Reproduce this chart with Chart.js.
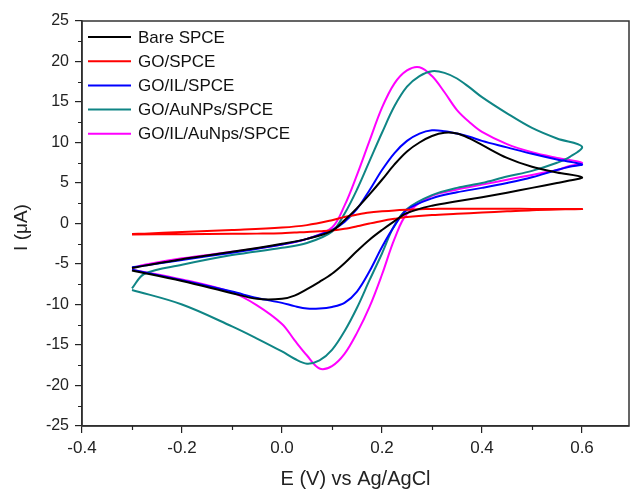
<!DOCTYPE html>
<html>
<head>
<meta charset="utf-8">
<style>
  html, body { margin: 0; padding: 0; background: #fff; }
  #wrap { width: 630px; height: 493px; }
</style>
<script src="https://cdn.jsdelivr.net/npm/chart.js@4/dist/chart.umd.min.js"></script>
</head>
<body>
<div id="wrap"><canvas id="cvChart" width="630" height="493"></canvas></div>
<script>
// Potential sweep (V vs Ag/AgCl): forward (anodic) then reverse (cathodic)
const sweepForward = [-0.3, -0.275, -0.2, -0.1, 0, 0.05, 0.1, 0.125, 0.15, 0.175, 0.2, 0.225, 0.25, 0.275, 0.3, 0.325, 0.35, 0.375, 0.4, 0.45, 0.5, 0.55, 0.6];
const sweepReverse = [0.575, 0.55, 0.5, 0.45, 0.4, 0.35, 0.3, 0.25, 0.225, 0.2, 0.175, 0.15, 0.125, 0.1, 0.075, 0.05, 0.025, 0, -0.05, -0.1, -0.2, -0.3];

// Currents (uA)
const bareFwd = [-5.5, -5.2, -4.4, -3.5, -2.5, -1.9, -0.9, 0.4, 1.9, 3.6, 5.4, 7.3, 8.9, 10.0, 10.8, 11.2, 11.1, 10.5, 9.7, 8.1, 7.0, 6.3, 5.7];
const bareRev = [5.3, 5.0, 4.4, 3.8, 3.25, 2.75, 2.2, 1.3, 0.3, -0.8, -2.0, -3.4, -4.9, -6.2, -7.2, -8.1, -8.9, -9.3, -9.3, -8.6, -7.1, -5.8];

const goFwd = [-1.3, -1.25, -1.05, -0.8, -0.5, -0.2, 0.4, 0.8, 1.1, 1.35, 1.5, 1.62, 1.7, 1.76, 1.8, 1.82, 1.83, 1.83, 1.83, 1.82, 1.8, 1.79, 1.78];
const goRev = [1.76, 1.74, 1.65, 1.5, 1.35, 1.2, 1.05, 0.8, 0.58, 0.32, 0.0, -0.35, -0.65, -0.85, -0.95, -1.05, -1.12, -1.2, -1.25, -1.28, -1.32, -1.35];

const goIlFwd = [-5.4, -5.2, -4.5, -3.6, -2.6, -1.9, -0.8, 0.2, 1.8, 4.1, 6.6, 8.7, 10.2, 11.1, 11.5, 11.4, 11.1, 10.7, 10.2, 9.4, 8.6, 7.9, 7.3];
const goIlRev = [7.0, 6.6, 5.7, 5.0, 4.4, 3.85, 3.1, 1.7, -0.3, -2.9, -5.9, -8.4, -9.8, -10.3, -10.5, -10.5, -10.2, -9.8, -9.2, -8.4, -7.0, -5.7];

const goAuFwd = [-8.0, -6.2, -5.1, -3.9, -3.0, -2.4, -1.0, 1.2, 4.2, 7.7, 11.2, 14.5, 16.9, 18.2, 18.8, 18.6, 17.9, 16.8, 15.6, 13.6, 11.8, 10.5, 9.5];
const goAuRev = [8.2, 7.5, 6.5, 5.8, 5.0, 4.4, 3.5, 1.8, -0.2, -3.7, -7.0, -10.4, -13.3, -15.6, -16.9, -17.3, -16.7, -15.8, -14.2, -12.7, -10.0, -8.2];

const goIlAuFwd = [-5.5, -5.1, -4.3, -3.5, -2.6, -1.9, -0.5, 2.2, 6.0, 10.2, 14.3, 17.3, 18.9, 19.3, 18.2, 16.2, 14.0, 12.5, 11.3, 9.8, 8.8, 8.1, 7.5];
const goIlAuRev = [7.1, 6.6, 6.0, 5.4, 4.8, 4.2, 3.4, 1.2, -1.9, -6.3, -10.3, -13.5, -16.1, -17.6, -17.9, -16.3, -14.4, -12.4, -10.1, -8.5, -6.9, -5.7];

const seriesLabels = ['Bare SPCE', 'GO/SPCE', 'GO/IL/SPCE', 'GO/AuNPs/SPCE', 'GO/IL/AuNps/SPCE'];
const seriesColors = ['#000000', '#ff0000', '#0000ff', '#0f8585', '#ff00ff'];
const seriesFwd = [bareFwd, goFwd, goIlFwd, goAuFwd, goIlAuFwd];
const seriesRev = [bareRev, goRev, goIlRev, goAuRev, goIlAuRev];

// Axis ticks
const xTicks = [-0.4, -0.2, 0, 0.2, 0.4, 0.6];
const xMinor = [-0.3, -0.1, 0.1, 0.3, 0.5];
const yTicks = [-25, -20, -15, -10, -5, 0, 5, 10, 15, 20, 25];
const yMinor = [-22.5, -17.5, -12.5, -7.5, -2.5, 2.5, 7.5, 12.5, 17.5, 22.5];

const FONT = "'Liberation Sans', Arial, sans-serif";
const AXIS_COLOR = '#222';

function loop(fwd, rev) {
    const pts = sweepForward.map((e, i) => ({ x: e, y: fwd[i] }));
    return pts.concat(sweepReverse.map((e, i) => ({ x: e, y: rev[i] })));
}

const datasets = seriesLabels.map((label, i) => ({
    label: label,
    data: loop(seriesFwd[i], seriesRev[i]),
    borderColor: seriesColors[i],
    backgroundColor: seriesColors[i],
    borderWidth: 2,
    pointRadius: 0,
    showLine: true,
    tension: 0.35,
    fill: false
}));

// frame, minor ticks, axis titles and in-plot legend
const decorPlugin = {
    id: 'decor',
    afterDraw(chart) {
        const { ctx, chartArea: a, scales } = chart;
        ctx.save();

        ctx.strokeStyle = '#333';
        ctx.lineWidth = 1.5;
        ctx.strokeRect(a.left, a.top, a.right - a.left, a.bottom - a.top);

        ctx.strokeStyle = AXIS_COLOR;
        ctx.lineWidth = 1.2;
        ctx.beginPath();
        xMinor.forEach(v => {
            const px = Math.round(scales.x.getPixelForValue(v)) + 0.5;
            ctx.moveTo(px, a.bottom);
            ctx.lineTo(px, a.bottom + 4);
        });
        yMinor.forEach(v => {
            const py = Math.round(scales.y.getPixelForValue(v)) + 0.5;
            ctx.moveTo(a.left, py);
            ctx.lineTo(a.left - 4, py);
        });
        ctx.stroke();

        // axis titles
        ctx.fillStyle = AXIS_COLOR;
        ctx.textAlign = 'center';
        ctx.textBaseline = 'middle';
        ctx.font = '20px ' + FONT;
        ctx.fillText('E (V) vs Ag/AgCl', (a.left + a.right) / 2, 479);
        ctx.save();
        ctx.translate(22, (a.top + a.bottom) / 2 + 4);
        ctx.rotate(-Math.PI / 2);
        ctx.font = '19px ' + FONT;
        ctx.fillText('I (\u03bcA)', 0, 0);
        ctx.restore();

        // legend
        ctx.font = '17px ' + FONT;
        ctx.textAlign = 'left';
        chart.data.datasets.forEach((ds, i) => {
            const y = a.top + 16 + i * 24.2;
            ctx.strokeStyle = ds.borderColor;
            ctx.lineWidth = 2;
            ctx.beginPath();
            ctx.moveTo(a.left + 6, y);
            ctx.lineTo(a.left + 49, y);
            ctx.stroke();
            ctx.fillStyle = '#111';
            ctx.fillText(ds.label, a.left + 56, y + 1);
        });
        ctx.restore();
    }
};

new Chart(document.getElementById('cvChart'), {
    type: 'scatter',
    data: { datasets: datasets },
    options: {
        responsive: false,
        animation: false,
        devicePixelRatio: 1,
        layout: { padding: { top: 21, right: 1, left: 0, bottom: 0 } },
        plugins: {
            legend: { display: false },
            tooltip: { enabled: false }
        },
        scales: {
            x: {
                type: 'linear',
                min: -0.4,
                max: 0.694,
                afterBuildTicks(scale) { scale.ticks = xTicks.map(v => ({ value: v })); },
                afterFit(scale) { scale.height = 67; },
                ticks: {
                    color: AXIS_COLOR,
                    font: { family: FONT, size: 17 },
                    padding: 5,
                    maxRotation: 0,
                    callback: v => Number(v).toFixed(1)
                },
                grid: { drawOnChartArea: false, drawTicks: true, tickLength: 7, color: AXIS_COLOR, lineWidth: 1.2 },
                border: { display: true, color: AXIS_COLOR, width: 1.5 }
            },
            y: {
                type: 'linear',
                min: -25,
                max: 25,
                afterBuildTicks(scale) { scale.ticks = yTicks.map(v => ({ value: v })); },
                afterFit(scale) { scale.width = 82; },
                ticks: {
                    color: AXIS_COLOR,
                    font: { family: FONT, size: 16 },
                    padding: 6
                },
                grid: { drawOnChartArea: false, drawTicks: true, tickLength: 7, color: AXIS_COLOR, lineWidth: 1.2 },
                border: { display: true, color: AXIS_COLOR, width: 1.5 }
            }
        }
    },
    plugins: [decorPlugin]
});
</script>
</body>
</html>
